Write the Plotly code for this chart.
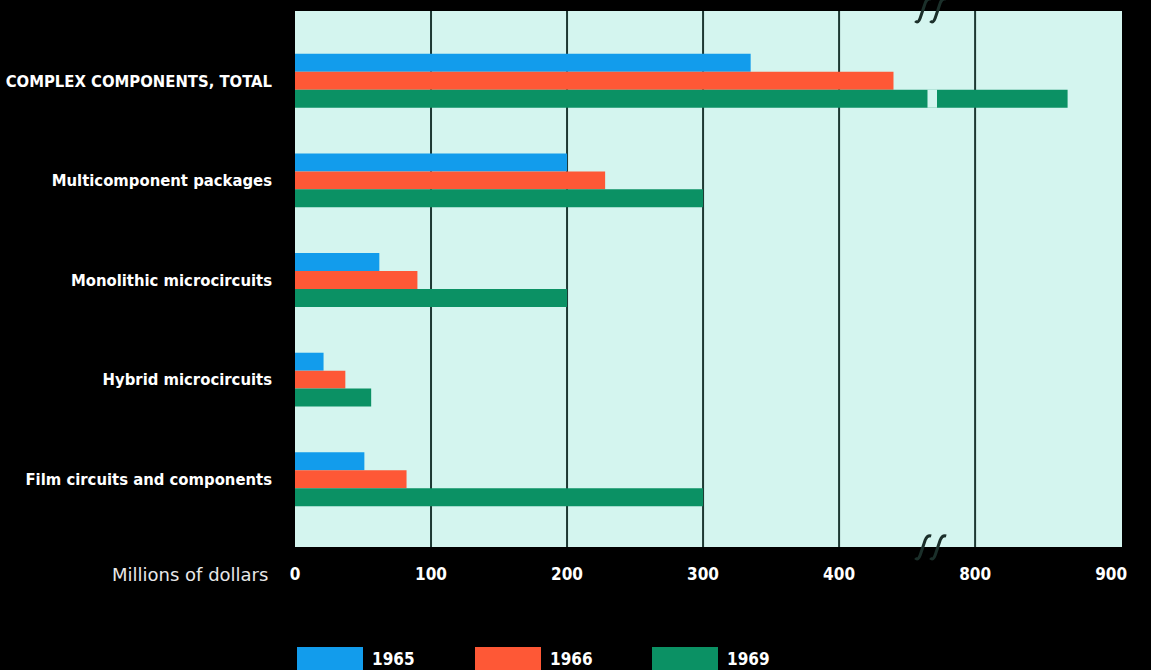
"""
Complex components market, 1965 / 1966 / 1969 -- horizontal grouped bars
with a broken value axis (400 -> 800).
"""
import plotly.graph_objects as go

# ── Data ─────────────────────────────────────────────────────────────────────
categories = [
    "COMPLEX COMPONENTS, TOTAL",
    "Multicomponent packages",
    "Monolithic microcircuits",
    "Hybrid microcircuits",
    "Film circuits and components",
]
years = ["1965", "1966", "1969"]
values_1965 = [335, 200, 62, 21, 51]
values_1966 = [440, 228, 90, 37, 82]
values_1969 = [868, 300, 200, 56, 300]
tick_values = [0, 100, 200, 300, 400, 800, 900]
tick_labels = ["0", "100", "200", "300", "400", "800", "900"]

BREAK_HI = 800         # values from here on are drawn 300 units further left
BREAK_GAP = 300
BREAK_AT = 465         # where the break is drawn on the axis

COLORS = ["#129cec", "#fe5836", "#0b9164"]
BG = "#d4f5ef"
GRID = "#1d3832"
FONT = "DejaVu Sans Condensed, DejaVu Sans, sans-serif"

W, H = 1151, 670
ML, MR, MT, MB = 295, 29, 11, 123


def to_axis(v):
    """Map a dollar value onto the broken axis."""
    return v if v < BREAK_HI else v - BREAK_GAP


def px(x):
    return (x - ML) / (W - ML - MR)


def py(y):
    return (H - MB - y) / (H - MT - MB)


fig = go.Figure()

# ── Grid lines (none at the right-hand 900 tick) ────────────────────────────
for v in tick_values[1:-1]:
    fig.add_vline(x=to_axis(v), line=dict(color=GRID, width=2), layer="below")

# ── Bars ────────────────────────────────────────────────────────────────────
for year, vals, col in zip(years, [values_1965, values_1966, values_1969], COLORS):
    fig.add_trace(go.Bar(
        y=list(range(len(categories))),
        x=[to_axis(v) for v in vals],
        orientation="h",
        name=year,
        marker=dict(color=col, line=dict(width=0)),
        customdata=vals,
        hovertemplate="%{customdata}<extra>" + year + "</extra>",
    ))

# break in the long 1969 total bar
fig.add_shape(type="rect", xref="x", yref="y",
              x0=BREAK_AT, x1=BREAK_AT + 7, y0=0.089, y1=0.271,
              fillcolor=BG, line=dict(width=0), layer="above")

# axis break marks (two slanted hooks), top and bottom
def hook(dx):
    return (f"M {dx - 8},-11 Q {dx - 5},-14 {dx - 3},-8 "
            f"L {dx + 2},7 Q {dx + 4},12 {dx + 8},11 ")


for yy in (py(10), py(547)):
    fig.add_shape(type="path", xref="x", yref="paper",
                  xsizemode="pixel", ysizemode="pixel",
                  xanchor=BREAK_AT + 2, yanchor=yy,
                  path=hook(-7) + hook(8),
                  line=dict(color="#1b2f2a", width=3), layer="above")

# ── Labels ──────────────────────────────────────────────────────────────────
fig.add_annotation(x=px(270), y=py(574), xref="paper", yref="paper",
                   text="Millions of dollars", showarrow=False,
                   xanchor="right", yanchor="middle",
                   font=dict(size=18, color="#e8e8e8", family="DejaVu Sans"))

# legend: wide swatches with labels
legend_x = [297, 475, 652]
for x0, year, col in zip(legend_x, years, COLORS):
    fig.add_shape(type="rect", xref="paper", yref="paper",
                  x0=px(x0), x1=px(x0 + 66), y0=py(672), y1=py(647),
                  fillcolor=col, line=dict(width=0))
    fig.add_annotation(x=px(x0 + 73), y=py(659), xref="paper", yref="paper",
                       text=year, showarrow=False,
                       xanchor="left", yanchor="middle",
                       font=dict(size=17, color="white", family=FONT, weight="bold"))

fig.update_layout(
    width=W, height=H,
    barmode="group", bargap=0.46, bargroupgap=0,
    showlegend=False,
    paper_bgcolor="black",
    plot_bgcolor=BG,
    margin=dict(l=ML, r=MR, t=MT, b=MB, autoexpand=False),
    xaxis=dict(
        range=[0, 608],
        tickvals=[to_axis(v) for v in tick_values],
        ticktext=tick_labels,
        showgrid=False, zeroline=False, showline=False, ticks="",
        automargin=False,
        ticklabelstandoff=15,
        tickfont=dict(size=17, color="white", family=FONT, weight="bold"),
    ),
    yaxis=dict(
        range=[4.68, -0.7],
        tickvals=list(range(len(categories))),
        ticktext=categories,
        showgrid=False, zeroline=False, showline=False, ticks="",
        automargin=False,
        ticklabelstandoff=22,
        tickfont=dict(size=16.5, color="white", family=FONT, weight="bold"),
    ),
)

fig.write_html(
    "out.html",
    config={"displayModeBar": False},
    post_script="document.body.style.margin='0';"
                "document.body.style.background='black';",
)
